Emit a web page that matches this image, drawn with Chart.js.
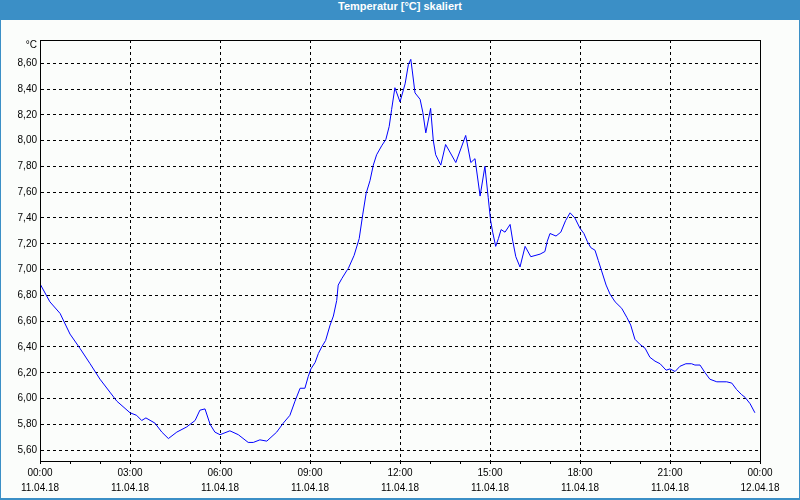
<!DOCTYPE html>
<html>
<head>
<meta charset="utf-8">
<script src="https://cdn.jsdelivr.net/npm/chart.js@4/dist/chart.umd.min.js"></script>
<style>
  html, body { margin: 0; padding: 0; background: #3b8fc6; }
  #frame { position: relative; width: 800px; height: 500px; background: #3b8fc6; overflow: hidden; }
  #title { position: absolute; left: 0; top: 0; width: 800px; height: 20px; line-height: 19px;
           text-align: center; color: #ffffff; font: bold 11px "Liberation Sans", Arial, sans-serif; }
  #plot { position: absolute; left: 1px; top: 20px; width: 798px; height: 478px; background: #fbfdfb; }
</style>
</head>
<body>
<div id="frame">
  <div id="title">Temperatur [°C] skaliert</div>
  <div id="plot"><canvas id="c" width="798" height="478"></canvas></div>
</div>
<script>
// Data: time in hours since 11.04.18 00:00, temperature in °C
const hours = [
  0.00, 0.33, 0.67, 1.00, 1.33, 1.67, 2.00, 2.33, 2.56, 3.00,
  3.22, 3.39, 3.53, 3.83, 4.06, 4.28, 4.56, 4.89, 5.17, 5.33,
  5.50, 5.67, 5.83, 6.00, 6.33, 6.61, 6.94, 7.11, 7.33, 7.56,
  7.89, 8.11, 8.33, 8.50, 8.67, 8.83, 8.94, 9.03, 9.17, 9.28,
  9.39, 9.52, 9.67, 9.78, 9.89, 9.94, 10.06, 10.22, 10.28, 10.47,
  10.64, 10.76, 10.87, 11.00, 11.11, 11.22, 11.39, 11.53, 11.64, 11.72,
  11.83, 12.00, 12.17, 12.28, 12.36, 12.41, 12.50, 12.67, 12.76, 12.86,
  12.97, 13.02, 13.11, 13.19, 13.36, 13.52, 13.86, 14.19, 14.36, 14.50,
  14.67, 14.83, 14.94, 15.02, 15.09, 15.19, 15.28, 15.37, 15.50, 15.67,
  15.76, 15.86, 16.00, 16.17, 16.36, 16.67, 16.83, 16.91, 17.00, 17.20,
  17.36, 17.52, 17.67, 17.83, 18.00, 18.13, 18.24, 18.36, 18.50, 18.61,
  18.72, 18.87, 19.00, 19.17, 19.39, 19.56, 19.69, 19.83, 20.00, 20.17,
  20.33, 20.50, 20.67, 20.87, 21.00, 21.17, 21.33, 21.53, 21.72, 21.83,
  22.00, 22.17, 22.33, 22.56, 22.89, 23.06, 23.22, 23.39, 23.50, 23.67,
  23.83
];
const temps = [
  6.89, 6.75, 6.66, 6.50, 6.39, 6.27, 6.15, 6.05, 5.98, 5.89,
  5.87, 5.83, 5.85, 5.81, 5.74, 5.69, 5.74, 5.78, 5.83, 5.91,
  5.92, 5.80, 5.74, 5.72, 5.75, 5.72, 5.66, 5.66, 5.68, 5.67,
  5.74, 5.81, 5.87, 5.98, 6.08, 6.08, 6.17, 6.23, 6.28, 6.35,
  6.40, 6.45, 6.57, 6.64, 6.76, 6.88, 6.93, 6.99, 7.01, 7.11,
  7.24, 7.43, 7.59, 7.69, 7.81, 7.89, 7.96, 8.01, 8.11, 8.24,
  8.41, 8.30, 8.44, 8.59, 8.63, 8.54, 8.37, 8.32, 8.22, 8.06,
  8.19, 8.25, 8.00, 7.89, 7.81, 7.97, 7.83, 8.04, 7.83, 7.86,
  7.57, 7.80, 7.56, 7.38, 7.29, 7.18, 7.24, 7.31, 7.29, 7.35,
  7.22, 7.10, 7.02, 7.18, 7.10, 7.12, 7.14, 7.22, 7.28, 7.26,
  7.29, 7.38, 7.44, 7.40, 7.32, 7.28, 7.22, 7.17, 7.15, 7.07,
  6.99, 6.88, 6.81, 6.75, 6.70, 6.63, 6.57, 6.46, 6.42, 6.39,
  6.32, 6.29, 6.27, 6.22, 6.23, 6.21, 6.25, 6.27, 6.27, 6.26,
  6.26, 6.20, 6.15, 6.13, 6.13, 6.12, 6.07, 6.03, 6.01, 5.96,
  5.89
];
// Tick labels
const yTickValues = [5.6, 5.8, 6.0, 6.2, 6.4, 6.6, 6.8, 7.0, 7.2, 7.4, 7.6, 7.8, 8.0, 8.2, 8.4, 8.6];
const xLabelHours = [0, 3, 6, 9, 12, 15, 18, 21, 24];
const xTimeLabels = ["00:00", "03:00", "06:00", "09:00", "12:00", "15:00", "18:00", "21:00", "00:00"];
const xDateLabels = ["11.04.18", "11.04.18", "11.04.18", "11.04.18", "11.04.18", "11.04.18", "11.04.18", "11.04.18", "12.04.18"];
const unitLabel = "°C";

const points = hours.map((h, i) => ({ x: h, y: temps[i] }));
const FONT = "'Liberation Sans', Arial, sans-serif";

const boxPlugin = {
  id: 'box',
  afterDraw(chart) {
    const { ctx, chartArea: a } = chart;
    ctx.save();
    ctx.strokeStyle = '#000';
    ctx.lineWidth = 1;
    ctx.setLineDash([]);
    const l = Math.round(a.left) + 0.5, t = Math.round(a.top) + 0.5;
    const r = Math.round(a.right) + 0.5, b = Math.round(a.bottom) + 0.5;
    ctx.strokeRect(l, t, r - l, b - t);
    ctx.fillStyle = '#000';
    ctx.font = '10px ' + FONT;
    ctx.textAlign = 'right';
    ctx.textBaseline = 'middle';
    ctx.fillText(unitLabel, a.left - 3, a.top + 5);
    ctx.restore();
  }
};

new Chart(document.getElementById('c'), {
  type: 'line',
  data: {
    datasets: [{
      data: points,
      borderColor: '#0000ff',
      borderWidth: 1,
      pointRadius: 0,
      tension: 0,
      fill: false
    }]
  },
  options: {
    responsive: false,
    animation: false,
    parsing: true,
    layout: { padding: { top: 20, right: 39, left: 0, bottom: 0 } },
    plugins: { legend: { display: false }, title: { display: false }, tooltip: { enabled: false } },
    scales: {
      x: {
        type: 'linear',
        min: 0, max: 24,
        afterFit(s) { s.height = 37; },
        ticks: {
          stepSize: 1,
          autoSkip: false,
          maxRotation: 0,
          padding: 1,
          color: '#000',
          font: { family: FONT, size: 10, lineHeight: 1.55 },
          callback(v) {
            const i = xLabelHours.indexOf(v);
            return i >= 0 ? [xTimeLabels[i], xDateLabels[i]] : '';
          }
        },
        grid: {
          color(ctx) { return (ctx.tick && xLabelHours.includes(ctx.tick.value)) ? '#000' : 'rgba(0,0,0,0)'; },
          tickColor: '#000',
          tickLength: 3,
          tickBorderDash: [],
          lineWidth: 1
        },
        border: { display: true, color: '#000', width: 1, dash: [3, 3] }
      },
      y: {
        type: 'linear',
        min: 5.516, max: 8.78,
        afterFit(s) { s.width = 39; },
        afterBuildTicks(s) { s.ticks = yTickValues.map(v => ({ value: v })); },
        ticks: {
          padding: 3,
          color: '#000',
          font: { family: FONT, size: 10 },
          callback(v) { return v.toFixed(2).replace('.', ','); }
        },
        grid: { color: '#000', drawTicks: false, lineWidth: 1 },
        border: { display: true, color: '#000', width: 1, dash: [3, 3] }
      }
    }
  },
  plugins: [boxPlugin]
});
</script>
</body>
</html>
